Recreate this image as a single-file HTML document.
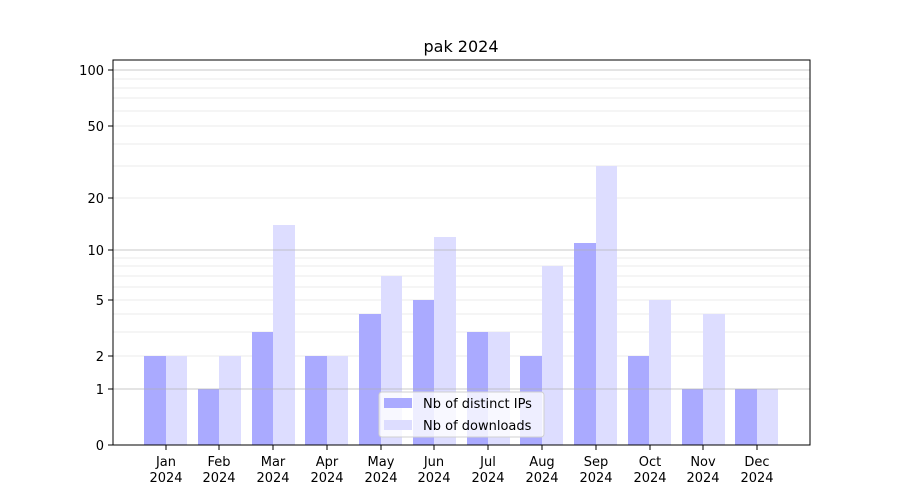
<!DOCTYPE html>
<html><head><meta charset="utf-8"><style>body{margin:0;background:#fff}svg{display:block;font-family:"DejaVu Sans","Liberation Sans",sans-serif}</style></head><body>
<svg width="900" height="500" viewBox="0 0 900 500" xmlns="http://www.w3.org/2000/svg">
<rect width="900" height="500" fill="#fff"/>
<text x="461" y="52" font-size="16" text-anchor="middle">pak 2024</text>
<g stroke="#ebebeb" stroke-width="1">
<line x1="113" x2="810" y1="356" y2="356"/><line x1="113" x2="810" y1="332" y2="332"/><line x1="113" x2="810" y1="314" y2="314"/><line x1="113" x2="810" y1="300" y2="300"/><line x1="113" x2="810" y1="287" y2="287"/><line x1="113" x2="810" y1="276" y2="276"/><line x1="113" x2="810" y1="266" y2="266"/><line x1="113" x2="810" y1="258" y2="258"/>
<line x1="113" x2="810" y1="198" y2="198"/><line x1="113" x2="810" y1="166" y2="166"/><line x1="113" x2="810" y1="144" y2="144"/><line x1="113" x2="810" y1="126" y2="126"/><line x1="113" x2="810" y1="111" y2="111"/><line x1="113" x2="810" y1="98" y2="98"/><line x1="113" x2="810" y1="88" y2="88"/><line x1="113" x2="810" y1="79" y2="79"/>
</g>
<g fill="#aaaaff">
<rect x="144" y="356" width="22" height="89"/><rect x="198" y="389" width="21" height="56"/><rect x="252" y="332" width="21" height="113"/><rect x="305" y="356" width="22" height="89"/><rect x="359" y="314" width="22" height="131"/><rect x="413" y="300" width="21" height="145"/><rect x="467" y="332" width="21" height="113"/><rect x="520" y="356" width="22" height="89"/><rect x="574" y="243" width="22" height="202"/><rect x="628" y="356" width="21" height="89"/><rect x="682" y="389" width="21" height="56"/><rect x="735" y="389" width="22" height="56"/>
</g>
<g fill="#ddddff">
<rect x="166" y="356" width="21" height="89"/><rect x="219" y="356" width="22" height="89"/><rect x="273" y="225" width="22" height="220"/><rect x="327" y="356" width="21" height="89"/><rect x="381" y="276" width="21" height="169"/><rect x="434" y="237" width="22" height="208"/><rect x="488" y="332" width="22" height="113"/><rect x="542" y="266" width="21" height="179"/><rect x="596" y="166" width="21" height="279"/><rect x="649" y="300" width="22" height="145"/><rect x="703" y="314" width="22" height="131"/><rect x="757" y="389" width="21" height="56"/>
</g>
<g stroke="#b0b0b0" stroke-opacity="0.7"><line x1="113" x2="810" y1="389" y2="389"/><line x1="113" x2="810" y1="250" y2="250"/><line x1="113" x2="810" y1="70" y2="70"/></g>
<rect x="113" y="60" width="697" height="385" fill="none" stroke="#000" stroke-width="1"/>
<g stroke="#000"><line x1="108" x2="113" y1="445" y2="445"/><line x1="108" x2="113" y1="389" y2="389"/><line x1="108" x2="113" y1="356" y2="356"/><line x1="108" x2="113" y1="300" y2="300"/><line x1="108" x2="113" y1="250" y2="250"/><line x1="108" x2="113" y1="198" y2="198"/><line x1="108" x2="113" y1="126" y2="126"/><line x1="108" x2="113" y1="70" y2="70"/></g>
<g font-size="13" text-anchor="end"><text x="104" y="450">0</text><text x="104" y="394">1</text><text x="104" y="361">2</text><text x="104" y="305">5</text><text x="104" y="255">10</text><text x="104" y="203">20</text><text x="104" y="131">50</text><text x="104" y="75">100</text></g>
<g font-size="13" text-anchor="middle">
<text x="166" y="466">Jan</text><text x="166" y="482">2024</text><text x="219" y="466">Feb</text><text x="219" y="482">2024</text><text x="273" y="466">Mar</text><text x="273" y="482">2024</text><text x="327" y="466">Apr</text><text x="327" y="482">2024</text><text x="381" y="466">May</text><text x="381" y="482">2024</text><text x="434" y="466">Jun</text><text x="434" y="482">2024</text><text x="488" y="466">Jul</text><text x="488" y="482">2024</text><text x="542" y="466">Aug</text><text x="542" y="482">2024</text><text x="596" y="466">Sep</text><text x="596" y="482">2024</text><text x="650" y="466">Oct</text><text x="650" y="482">2024</text><text x="703" y="466">Nov</text><text x="703" y="482">2024</text><text x="757" y="466">Dec</text><text x="757" y="482">2024</text>
</g>
<g stroke="#000"><line x1="166" x2="166" y1="445" y2="450"/><line x1="219" x2="219" y1="445" y2="450"/><line x1="273" x2="273" y1="445" y2="450"/><line x1="327" x2="327" y1="445" y2="450"/><line x1="381" x2="381" y1="445" y2="450"/><line x1="434" x2="434" y1="445" y2="450"/><line x1="488" x2="488" y1="445" y2="450"/><line x1="542" x2="542" y1="445" y2="450"/><line x1="596" x2="596" y1="445" y2="450"/><line x1="650" x2="650" y1="445" y2="450"/><line x1="703" x2="703" y1="445" y2="450"/><line x1="757" x2="757" y1="445" y2="450"/></g>
<rect x="379" y="392" width="165" height="45" rx="3" fill="#fff" fill-opacity="0.8" stroke="#d0d0d0"/>
<rect x="384" y="398" width="28" height="10" fill="#aaaaff"/><text x="423" y="408" font-size="13">Nb of distinct IPs</text>
<rect x="384" y="420" width="28" height="10" fill="#ddddff"/><text x="423" y="430" font-size="13">Nb of downloads</text>
</svg>
</body></html>
